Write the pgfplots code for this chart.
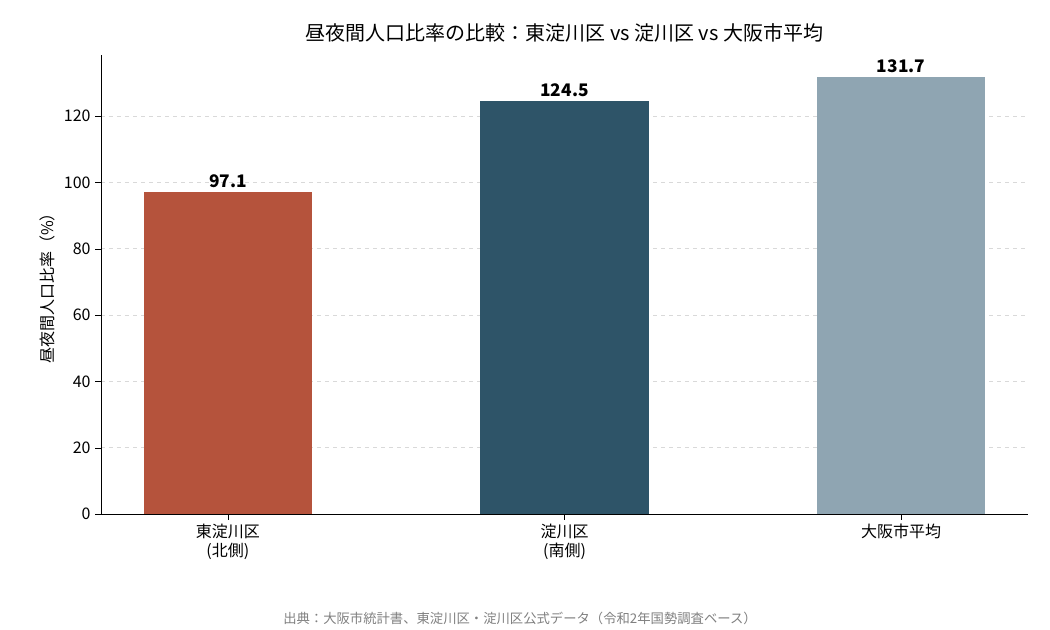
\documentclass[border=0pt]{standalone}
\usepackage{pgfplots}
\pgfplotsset{compat=1.18}
\usepackage{fontspec}
\setmainfont{Noto Sans CJK JP}
\definecolor{c1}{HTML}{B5533C}
\definecolor{c2}{HTML}{2E5468}
\definecolor{c3}{HTML}{8FA5B2}
\begin{document}
\begin{tikzpicture}[x=0.75pt,y=0.75pt]
\path[use as bounding box] (0,0) rectangle (1050,630);
\begin{axis}[at={(101*0.75pt,116*0.75pt)},anchor=south west,
 scale only axis,width=695.25pt,height=344.25pt,
 xmin=-0.377,xmax=2.377,ymin=0,ymax=138.4,
 xtick={0,1,2},xticklabels={東淀川区\\(北側),淀川区\\(南側),大阪市平均},
 xticklabel style={align=center,font=\fontsize{12}{14}\selectfont},
 yticklabel style={font=\fontsize{12}{14}\selectfont},
 /pgf/number format/assume math mode=true,
 ytick={0,20,...,120},
 axis x line*=bottom, axis y line*=left,
 ymajorgrids, grid style={dashed,gray!30},
 tick align=outside, xtick style={black}, ytick style={black},
 ylabel={昼夜間人口比率（\%）},ylabel style={font=\fontsize{12}{14}\selectfont},
 title={昼夜間人口比率の比較：東淀川区 vs 淀川区 vs 大阪市平均},
 title style={font=\fontsize{15}{18}\selectfont},
 nodes near coords, every node near coord/.append style={font=\bfseries\fontsize{13}{15}\selectfont,black,/pgf/number format/.cd,fixed,precision=1,fixed zerofill},
 clip=false]
\addplot[ybar,bar width=0.5,fill=c1,draw=none] coordinates {(0,97.1)};
\addplot[ybar,bar width=0.5,fill=c2,draw=none] coordinates {(1,124.5)};
\addplot[ybar,bar width=0.5,fill=c3,draw=none] coordinates {(2,131.7)};
\end{axis}
\node[gray,font=\fontsize{10}{12}\selectfont] at (520,12) {出典：大阪市統計書、東淀川区・淀川区公式データ（令和2年国勢調査ベース）};
\end{tikzpicture}
\end{document}
